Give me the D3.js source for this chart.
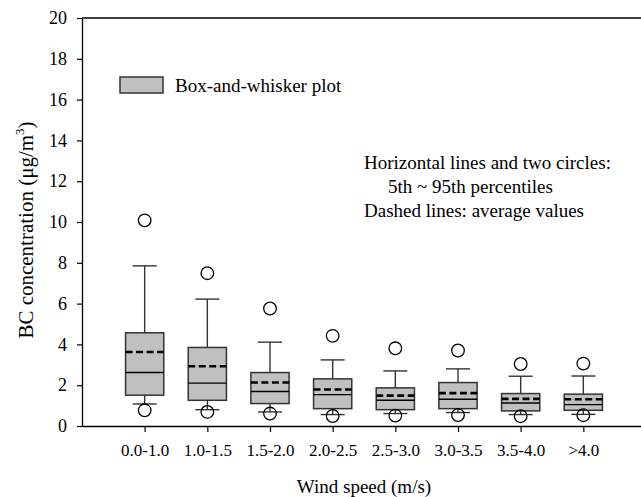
<!DOCTYPE html>
<html>
<head>
<meta charset="utf-8">
<script src="https://cdn.jsdelivr.net/npm/d3@7"></script>
<style>
  html, body { margin: 0; padding: 0; background: #fff; }
  svg { display: block; }
  svg text { font-family: "Liberation Serif", "Times New Roman", serif; fill: #000; }
</style>
</head>
<body>
<svg id="chart" width="641" height="497"></svg>
<script>
// Wind-speed classes and BC concentration statistics (µg/m³)
const categories = ["0.0-1.0", "1.0-1.5", "1.5-2.0", "2.0-2.5", "2.5-3.0", "3.0-3.5", "3.5-4.0", ">4.0"];
const circleLow   = [0.77, 0.69, 0.61, 0.49, 0.51, 0.54, 0.48, 0.53];
const whiskerLow  = [1.08, 0.80, 0.69, 0.56, 0.61, 0.66, 0.56, 0.57];
const quartile1   = [1.51, 1.26, 1.10, 0.85, 0.80, 0.85, 0.74, 0.77];
const medians     = [2.62, 2.10, 1.69, 1.54, 1.26, 1.31, 1.13, 1.05];
const means       = [3.63, 2.93, 2.13, 1.79, 1.49, 1.61, 1.33, 1.31];
const quartile3   = [4.57, 3.85, 2.62, 2.31, 1.87, 2.13, 1.59, 1.56];
const whiskerHigh = [7.85, 6.22, 4.11, 3.24, 2.70, 2.80, 2.44, 2.45];
const circleHigh  = [10.08, 7.49, 5.76, 4.42, 3.81, 3.70, 3.04, 3.06];
const yTicks = [0, 2, 4, 6, 8, 10, 12, 14, 16, 18, 20];

const svg = d3.select("#chart");

// Categories sit at positions 1..8 on a 0..9 axis
const x = d3.scaleLinear().domain([0, 9]).range([82, 646]);
const y = d3.scaleLinear().domain([0, 20]).range([426, 18]);
const step = x(1) - x(0);
const boxW = step * 0.61;
const capW = 24;

const rows = categories.map((c, i) => ({
  pos: i + 1, c,
  lo5: circleLow[i], lo: whiskerLow[i], q1: quartile1[i], med: medians[i],
  mean: means[i], q3: quartile3[i], hi: whiskerHigh[i], hi95: circleHigh[i]
}));

// Axes
const yAxis = d3.axisLeft(y).tickValues(yTicks).tickSize(5).tickPadding(10).tickSizeOuter(0);
const gy = svg.append("g").attr("transform", `translate(${x(0)},0)`).call(yAxis);

const xAxis = d3.axisBottom(x).tickValues(rows.map(d => d.pos))
  .tickFormat(d => categories[d - 1]).tickSize(6).tickPadding(12).tickSizeOuter(0);
const gx = svg.append("g").attr("transform", `translate(0,${y(0)})`).call(xAxis);

[gx, gy].forEach(g => {
  g.attr("font-family", null).attr("font-size", null);
  g.select(".domain").attr("stroke", "#000").attr("stroke-width", 1.3);
  g.selectAll(".tick line").attr("stroke", "#000").attr("stroke-width", 1.2);
});
gx.selectAll("text").style("font-size", "17px");
gy.selectAll("text").style("font-size", "18px");

// Top frame line
svg.append("line")
  .attr("x1", x(0)).attr("x2", x(9)).attr("y1", y(20)).attr("y2", y(20))
  .attr("stroke", "#000").attr("stroke-width", 1.3);

// Boxes
const g = svg.append("g");
const item = g.selectAll("g.box").data(rows).join("g").attr("class", "box");

// whiskers
item.append("line")
  .attr("x1", d => x(d.pos)).attr("x2", d => x(d.pos))
  .attr("y1", d => y(d.q3)).attr("y2", d => y(d.hi))
  .attr("stroke", "#333").attr("stroke-width", 1.4);
item.append("line")
  .attr("x1", d => x(d.pos)).attr("x2", d => x(d.pos))
  .attr("y1", d => y(d.q1)).attr("y2", d => y(d.lo))
  .attr("stroke", "#333").attr("stroke-width", 1.4);
// caps
item.append("line")
  .attr("x1", d => x(d.pos) - capW / 2).attr("x2", d => x(d.pos) + capW / 2)
  .attr("y1", d => y(d.hi)).attr("y2", d => y(d.hi))
  .attr("stroke", "#333").attr("stroke-width", 1.4);
item.append("line")
  .attr("x1", d => x(d.pos) - capW / 2).attr("x2", d => x(d.pos) + capW / 2)
  .attr("y1", d => y(d.lo)).attr("y2", d => y(d.lo))
  .attr("stroke", "#333").attr("stroke-width", 1.4);

// box body
item.append("rect")
  .attr("x", d => x(d.pos) - boxW / 2).attr("width", boxW)
  .attr("y", d => y(d.q3)).attr("height", d => y(d.q1) - y(d.q3))
  .attr("fill", "#c0c0c0").attr("stroke", "#333").attr("stroke-width", 1.5);

// median
item.append("line")
  .attr("x1", d => x(d.pos) - boxW / 2).attr("x2", d => x(d.pos) + boxW / 2)
  .attr("y1", d => y(d.med)).attr("y2", d => y(d.med))
  .attr("stroke", "#000").attr("stroke-width", 1.4);

// mean (dashed)
item.append("line")
  .attr("x1", d => x(d.pos) - boxW / 2).attr("x2", d => x(d.pos) + boxW / 2)
  .attr("y1", d => y(d.mean)).attr("y2", d => y(d.mean))
  .attr("stroke", "#000").attr("stroke-width", 2.6).attr("stroke-dasharray", "7,3.5");

// 5th / 95th percentile circles
item.append("circle")
  .attr("cx", d => x(d.pos)).attr("cy", d => y(d.lo5)).attr("r", 6.3)
  .attr("fill", "none").attr("stroke", "#000").attr("stroke-width", 1.3);
item.append("circle")
  .attr("cx", d => x(d.pos)).attr("cy", d => y(d.hi95)).attr("r", 6.3)
  .attr("fill", "none").attr("stroke", "#000").attr("stroke-width", 1.3);

// Legend
svg.append("rect").attr("x", 120).attr("y", 77).attr("width", 43).attr("height", 16)
  .attr("fill", "#c0c0c0").attr("stroke", "#333").attr("stroke-width", 1.5);
svg.append("text").attr("x", 175).attr("y", 92).style("font-size", "19px")
  .text("Box-and-whisker plot");

// Notes
const notes = [
  { t: "Horizontal lines and two circles:", x: 364, y: 169 },
  { t: "5th ~ 95th percentiles", x: 388, y: 193 },
  { t: "Dashed lines: average values", x: 364, y: 217 }
];
svg.selectAll("text.note").data(notes).join("text").attr("class", "note")
  .attr("x", d => d.x).attr("y", d => d.y).style("font-size", "19px").text(d => d.t);

// Axis titles
svg.append("text").attr("x", (x(0) + x(9)) / 2).attr("y", 493)
  .attr("text-anchor", "middle").style("font-size", "19px").text("Wind speed (m/s)");

const yt = svg.append("text")
  .attr("transform", "translate(33,230) rotate(-90)")
  .attr("text-anchor", "middle").style("font-size", "21px");
yt.append("tspan").text("BC concentration (μg/m");
yt.append("tspan").style("font-size", "13px").attr("dy", -9).text("3");
yt.append("tspan").attr("dy", 9).text(")");
</script>
</body>
</html>
